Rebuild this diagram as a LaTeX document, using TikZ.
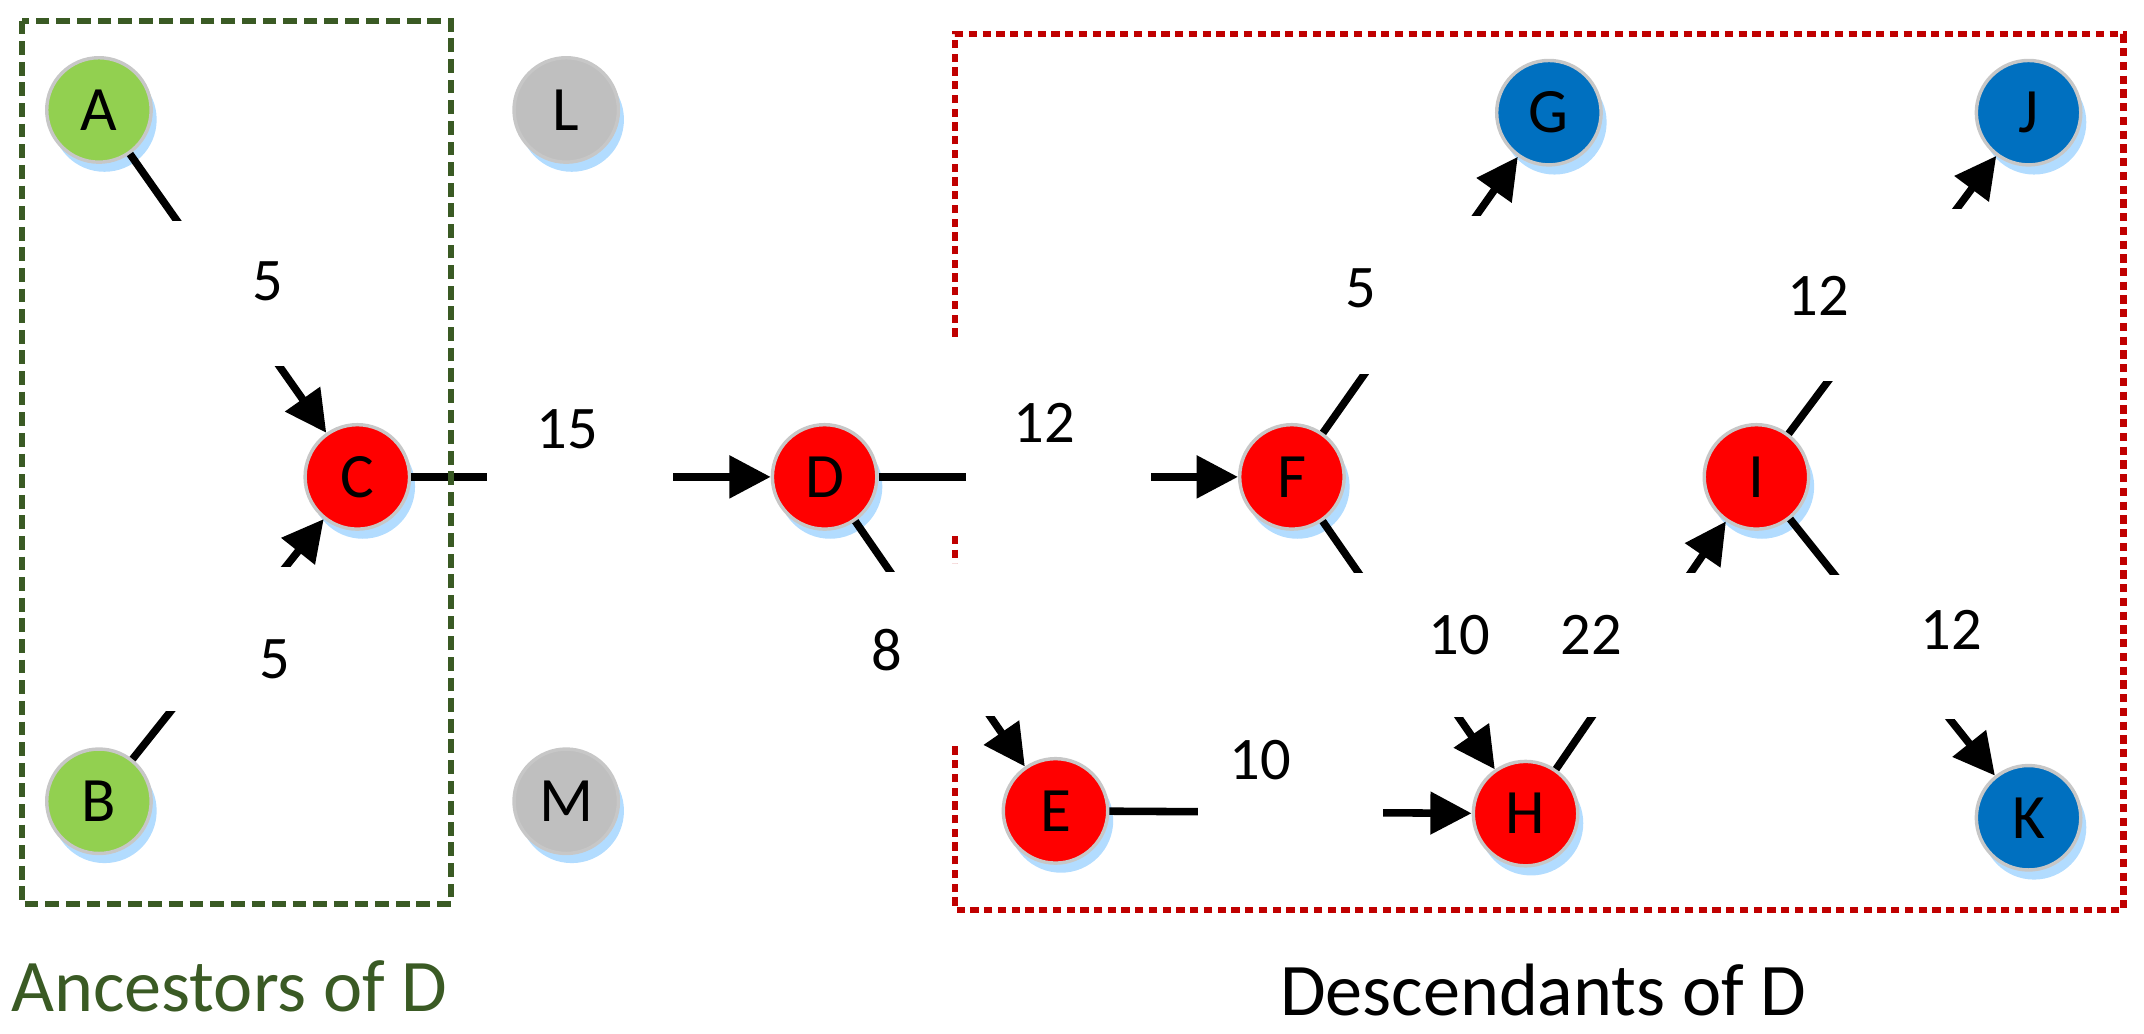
\documentclass[tikz,border=0pt]{standalone}
\usepackage{fontspec}
\setmainfont{Carlito}
\usetikzlibrary{arrows.meta,shadows}
\definecolor{ngreen}{HTML}{92D050}
\definecolor{nred}{HTML}{FF0000}
\definecolor{nblue}{HTML}{0070C0}
\definecolor{ngrey}{HTML}{BFBFBF}
\definecolor{boxgreen}{HTML}{3A5A24}
\definecolor{boxred}{HTML}{C00000}
\tikzset{
 nd/.style={circle,minimum size=76pt,inner sep=0pt,draw=black!22,line width=2.5pt,
   font=\fontsize{46}{50}\selectfont,
   drop shadow={fill=blue!45!cyan,opacity=0.3,shadow xshift=4pt,shadow yshift=-7pt}},
 gr/.style={nd,fill=ngreen}, rd/.style={nd,fill=nred}, bl/.style={nd,fill=nblue}, gy/.style={nd,fill=ngrey},
 ed/.style={line width=5.5pt,-{Triangle[length=30pt,width=30pt]}},
 gap/.style={fill=white,minimum width=135pt,minimum height=105pt,inner sep=0pt},
 lbl/.style={font=\fontsize{44}{48}\selectfont,inner sep=0pt},
 captxt/.style={font=\fontsize{54}{58}\selectfont,inner sep=0pt}
}
\newcommand\myedge[6]{%
 \draw[ed] (#1) -- node[gap,#6]{} (#2);
 \node[lbl] (#3) at (#4) {#5};}
\begin{document}
\begin{tikzpicture}[x=1pt,y=-1pt]
\useasboundingbox (0,0) rectangle (1560,752);
\node[gr] (A) at (72,80) {A};
\node[gy] (L) at (412,80) {L};
\node[bl] (G) at (1127,82) {G};
\node[bl] (J) at (1476,82) {J};
\node[rd] (C) at (260,347) {C};
\node[rd] (D) at (600,347) {D};
\node[rd] (F) at (940,347) {F};
\node[rd] (I) at (1278,347) {I};
\node[gr] (B) at (72,583) {B};
\node[gy] (M) at (412,583) {M};
\node[rd] (E) at (768,590) {E};
\node[rd] (H) at (1110,592) {H};
\node[bl] (K) at (1476,595) {K};
\myedge{A}{C}{l1}{195,205}{5}{}
\myedge{B}{C}{l2}{200,480}{5}{}
\myedge{C}{D}{l3}{413,312}{15}{xshift=-8pt}
\myedge{D}{F}{l4}{760,308}{12}{}
\myedge{D}{E}{l5}{645,473}{8}{}
\myedge{F}{G}{l6}{990,210}{5}{minimum height=115pt}
\myedge{F}{H}{l7}{1062,462}{10}{}
\myedge{E}{H}{l8}{917,553}{10}{}
\myedge{H}{I}{l9}{1158,462}{22}{}
\myedge{I}{J}{l10}{1323,215}{12}{minimum height=125pt}
\myedge{I}{K}{l11}{1420,458}{12}{}
\draw[boxgreen,line width=4.5pt,dash pattern=on 10pt off 5pt] (16,15) rectangle (328,658);
\draw[boxred,line width=4.5pt,dash pattern=on 6pt off 4pt] (695,245) -- (695,25) -- (1545,25) -- (1545,662) -- (695,662) -- (695,540);
\draw[boxred,line width=4.5pt,dash pattern=on 6pt off 4pt] (695,390) -- (695,410);
\node[captxt,text=boxgreen,anchor=west] (t1) at (8,718) {Ancestors of D};
\node[captxt,anchor=center] (t2) at (1123,720) {Descendants of D};
\end{tikzpicture}
\end{document}
